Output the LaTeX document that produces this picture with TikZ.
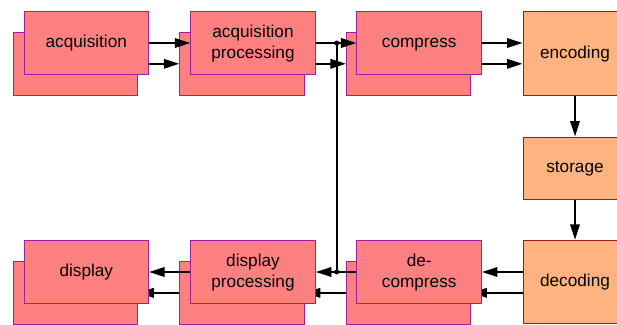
\documentclass[tikz,border=0pt]{standalone}
\usepackage{fontspec}
\setmainfont{Liberation Sans}
\usetikzlibrary{arrows.meta,calc}
\definecolor{pinkfill}{HTML}{FF8080}
\definecolor{pinkline}{HTML}{A0209A}
\definecolor{orgfill}{HTML}{FFB380}
\definecolor{orgline}{HTML}{A01818}
\newcommand\sx{\rule[-3.5pt]{0pt}{17pt}}
\begin{document}
\begin{tikzpicture}[x=1pt,y=-1pt,
  pbox/.style={draw=pinkline,fill=pinkfill,line width=1pt,minimum width=124.5pt,minimum height=62.5pt,inner sep=0pt,align=center,font=\fontsize{17.2}{20.5}\selectfont},
  obox/.style={draw=orgline,fill=orgfill,line width=1pt,minimum width=104pt,inner sep=0pt,align=center,font=\fontsize{17.2}{20.5}\selectfont},
  arr/.style={line width=1.9pt,-{Triangle[length=15.5pt,width=9.5pt]}},
  ln/.style={line width=1.9pt},
  jdot/.style={circle,fill=black,inner sep=0pt,minimum size=5pt}]
\useasboundingbox (0,0) rectangle (617,324);
\clip (0,0) rectangle (617,324);
% back boxes
\node[pbox] (acqB) at (75.5,63.8) {};
\node[pbox] (acqprocB) at (242,63.8) {};
\node[pbox] (compB) at (408.7,63.8) {};
\node[pbox] (dispB) at (75.5,292.8) {};
\node[pbox] (dispprocB) at (242,292.8) {};
\node[pbox] (decompB) at (408.7,292.8) {};
% orange boxes
\node[obox,minimum height=83.5pt] (enc) at (575,53.5) {\sx encoding};
\node[obox,minimum height=62pt] (stor) at (575,168) {\sx storage};
\node[obox,minimum height=83.5pt] (dec) at (575,282) {\sx decoding};
% lower arrows
\draw[arr] (acqB.east) -- (acqprocB.west);
\draw[arr] (acqprocB.east) -- (compB.west);
\draw[arr] (compB.east) -- (compB.east -| enc.west);
\draw[arr] (dec.west |- decompB.east) -- (decompB.east);
\draw[arr] (decompB.west) -- (dispprocB.east);
\draw[arr] (dispprocB.west) -- (dispB.east);
% front boxes
\node[pbox] (acq) at (86.3,43) {\sx acquisition};
\node[pbox] (acqproc) at (253,43) {\sx acquisition\\\sx processing};
\node[pbox] (comp) at (419.2,43) {\sx compress};
\node[pbox] (disp) at (86.3,272) {\sx display};
\node[pbox] (dispproc) at (253,272) {\sx display\\\sx processing};
\node[pbox] (decomp) at (419.2,272) {\sx de-\\\sx compress};
% junctions
\coordinate (jt) at (336.7,43);
\coordinate (jb) at (336.7,272);
% upper arrows
\draw[arr] (acq.east) -- (acqproc.west);
\draw[arr] (acqproc.east) -- (comp.west);
\draw[arr] (comp.east) -- (comp.east -| enc.west);
\draw[arr] (enc.south) -- (stor.north);
\draw[arr] (stor.south) -- (dec.north);
\draw[arr] (dec.west |- decomp.east) -- (decomp.east);
\draw[arr] (decomp.west) -- (dispproc.east);
\draw[arr] (dispproc.west) -- (disp.east);
\draw[ln] (jt) -- (jb);
\node[jdot] at (jt) {};
\node[jdot] at (jb) {};
\end{tikzpicture}
\end{document}
